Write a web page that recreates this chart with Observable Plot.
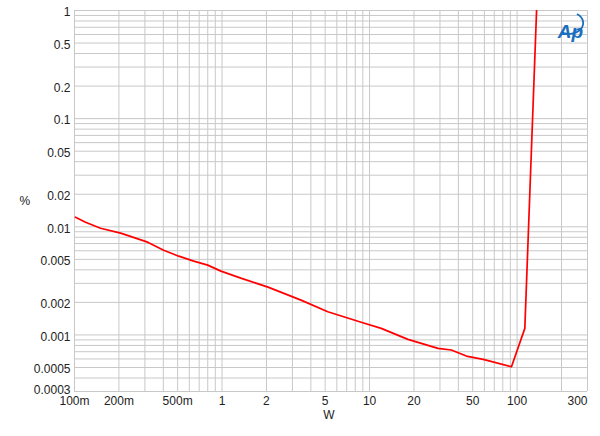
<!DOCTYPE html>
<html>
<head>
<meta charset="utf-8">
<script src="https://cdn.jsdelivr.net/npm/d3@7"></script>
<script src="https://cdn.jsdelivr.net/npm/@observablehq/plot@0.6"></script>
<style>
  body { margin: 0; background: #fff; }
  #chart { position: relative; width: 600px; height: 436px; }
</style>
</head>
<body>
<div id="chart"></div>
<script>
const watts = [0.1016, 0.1188, 0.1502, 0.2054, 0.3132, 0.4022, 0.509, 0.643, 0.800, 0.983, 1.34, 2.05, 3.43, 5.21, 8.77, 12.0, 18.2, 29.1, 35.8, 45.3, 58.9, 91.6, 112.8, 135.5];
const thdPct = [0.01227, 0.01102, 0.0097, 0.00873, 0.00721, 0.00608, 0.00535, 0.00481, 0.00442, 0.00389, 0.00335, 0.00277, 0.0021, 0.00164, 0.00131, 0.00115, 0.00091, 0.000752, 0.000726, 0.000638, 0.000595, 0.000508, 0.00115, 1.0];

const xTicks = [0.1, 0.2, 0.5, 1, 2, 5, 10, 20, 50, 100, 300];
const xTickLabels = ["100m", "200m", "500m", "1", "2", "5", "10", "20", "50", "100", "300"];
const yTicks = [1, 0.5, 0.2, 0.1, 0.05, 0.02, 0.01, 0.005, 0.002, 0.001, 0.0005, 0.0003];
const yTickLabels = ["1", "0.5", "0.2", "0.1", "0.05", "0.02", "0.01", "0.005", "0.002", "0.001", "0.0005", "0.0003"];

const gridX = [];
for (const d of [0.1, 1, 10, 100]) for (let k = 1; k <= 9; k++) { const v = +(d * k).toPrecision(3); if (v <= 300) gridX.push(v); }
const gridY = [];
for (const d of [0.0001, 0.001, 0.01, 0.1]) for (let k = 1; k <= 9; k++) { const v = +(d * k).toPrecision(3); if (v >= 0.0003) gridY.push(v); }
gridY.push(1);

const data = watts.map((w, i) => ({ w, p: thdPct[i] }));
const xTickData = xTicks.map((t, i) => ({ t, label: xTickLabels[i] }));
const yTickData = yTicks.map((t, i) => ({ t, label: yTickLabels[i] }));
const xMax = xTicks[xTicks.length - 1];
const yMin = yTicks[yTicks.length - 1];
const font = "'Liberation Sans', Arial, sans-serif";

const chart = Plot.plot({
  width: 600,
  height: 436,
  marginLeft: 74,
  marginRight: 13,
  marginTop: 10,
  marginBottom: 45,
  style: { fontFamily: font, fontSize: "12px", color: "#222", background: "#fff" },
  x: { type: "log", domain: [0.1, 300], axis: null },
  y: { type: "log", domain: [0.0003, 1], axis: null },
  marks: [
    Plot.ruleX(gridX, { stroke: "#c8c8c8", strokeWidth: 1 }),
    Plot.ruleY(gridY, { stroke: "#c8c8c8", strokeWidth: 1 }),
    Plot.text(xTickData.filter(d => d.t !== xMax), { x: "t", frameAnchor: "bottom", dy: 13, text: "label", fontSize: 12, fill: "#222", textAnchor: "middle" }),
    Plot.text(xTickData.filter(d => d.t === xMax), { x: "t", frameAnchor: "bottom", dy: 13, text: "label", fontSize: 12, fill: "#222", textAnchor: "end" }),
    Plot.text(yTickData.filter(d => d.t !== yMin), { y: "t", frameAnchor: "left", dx: -4, dy: 2, text: "label", fontSize: 12, fill: "#222", textAnchor: "end" }),
    Plot.text(yTickData.filter(d => d.t === yMin), { y: "t", frameAnchor: "left", dx: -4, dy: -1, text: "label", fontSize: 12, fill: "#222", textAnchor: "end" }),
    Plot.line(data, { x: "w", y: "p", stroke: "#ff0000", strokeWidth: 1.7, clip: true }),
    Plot.text(["%"], { frameAnchor: "left", dx: -55, dy: 0, fontSize: 12, fill: "#222" }),
    Plot.text(["W"], { frameAnchor: "bottom", dy: 27, dx: -2, fontSize: 12, fill: "#222" }),
    Plot.text(["Ap"], { frameAnchor: "top-right", dx: -17, dy: 14, fontSize: 19, fontStyle: "italic", fontWeight: "bold", fill: "#1a6fbe", textAnchor: "middle", fontFamily: font })
  ]
});

// decorative arc of the AP logo
d3.select(chart).append("path")
  .attr("d", "M561,32 A13,10 0 1 0 577,14")
  .attr("fill", "none")
  .attr("stroke", "#1a6fbe")
  .attr("stroke-width", 1.8);

document.getElementById("chart").appendChild(chart);
</script>
</body>
</html>
